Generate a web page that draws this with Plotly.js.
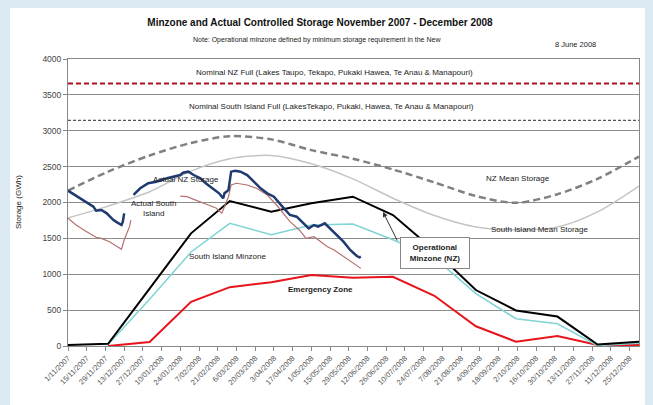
<!DOCTYPE html>
<html><head><meta charset="utf-8">
<script src="https://cdn.plot.ly/plotly-3.0.1.min.js"></script>
<style>
html,body{margin:0;padding:0;background:#dbe9f3;width:653px;height:405px;overflow:hidden;}
#panel{position:absolute;left:10px;top:8px;width:635px;height:397px;background:#fff;}
#chart{position:absolute;left:0;top:0;width:653px;height:405px;}
</style></head>
<body><div id="panel"></div><div id="chart"></div>
<script>
// ---- data ----
const monthDates = ['2007-11-01','2007-12-01','2008-01-01','2008-02-01','2008-03-01','2008-04-01','2008-05-01','2008-06-01','2008-07-01','2008-08-01','2008-09-01','2008-10-01','2008-11-01','2008-12-01','2009-01-01'];
const nzMean   = [2165,2430,2655,2830,2925,2880,2730,2610,2460,2280,2090,1995,2115,2330,2640];
const siMean   = [1785,1950,2150,2437,2610,2655,2540,2330,2060,1820,1660,1620,1660,1870,2230];
const opMinzone= [15,30,800,1570,2020,1872,1990,2081,1826,1330,780,495,410,20,60];
const siMinDates = monthDates.slice(1);
const siMinzone= [20,650,1310,1710,1550,1686,1700,1480,1230,730,380,310,5,40];
const emergDates = monthDates.slice(1);
const emergency= [0,55,615,820,890,990,950,965,700,275,60,140,15,15];
const fullDates = ['2007-11-01','2009-01-01'];
const nzFull = [3660,3660];
const siFull = [3145,3145];

const actNZDates = ['2007-11-01','2007-11-06','2007-11-12','2007-11-20','2007-11-22','2007-11-26','2007-11-30','2007-12-05','2007-12-08','2007-12-11','2007-12-12','2007-12-13','2007-12-16',
 '2007-12-20','2007-12-25','2007-12-31','2008-01-06','2008-01-14','2008-01-24','2008-01-26','2008-01-30','2008-02-03','2008-02-08','2008-02-12','2008-02-17','2008-02-22','2008-02-25','2008-02-26','2008-02-29','2008-03-01','2008-03-02','2008-03-05','2008-03-09','2008-03-14','2008-03-19','2008-03-24','2008-03-29','2008-04-03','2008-04-08','2008-04-15','2008-04-20','2008-04-25','2008-04-29','2008-05-03','2008-05-06','2008-05-11','2008-05-15','2008-05-20','2008-05-25','2008-05-30','2008-06-04','2008-06-06','2008-06-07'];
const actNZ = [2165,2105,2035,1942,1886,1895,1849,1756,1719,1686,1733,1849,null,
 2105,2198,2268,2290,2337,2383,2415,2430,2383,2337,2268,2198,2128,2058,2128,2174,2314,2430,2443,2430,2383,2290,2198,2128,2081,1970,1826,1802,1710,1640,1686,1663,1710,1640,1547,1454,1338,1254,1236,1245];

const actSIDates = ['2007-11-01','2007-11-07','2007-11-15','2007-11-22','2007-11-26','2007-12-02','2007-12-08','2007-12-11','2007-12-13','2007-12-17','2007-12-18','2008-01-01',
 '2008-01-24','2008-01-29','2008-02-03','2008-02-08','2008-02-14','2008-02-20','2008-02-24','2008-02-26','2008-02-29','2008-03-02','2008-03-06','2008-03-14','2008-03-21','2008-03-29','2008-04-05','2008-04-15','2008-04-22','2008-04-27','2008-05-03','2008-05-08','2008-05-13','2008-05-18','2008-05-25','2008-06-01','2008-06-07'];
const actSI = [1780,1686,1593,1515,1500,1454,1384,1347,1477,1663,1756,null,
 2090,2081,2044,2011,1965,1919,1849,1942,2081,2244,2268,2244,2198,2105,1965,1733,1617,1500,1523,1454,1384,1338,1245,1152,1082];

// ---- layout helpers (pixel -> paper) ----
const L=68, R=639, T=59, B=346;
const px = x => (x-L)/(R-L);
const py = y => (B-y)/(B-T);
const F = 'Arial, "Liberation Sans", sans-serif';

const traces = [
 {x:monthDates,y:siMean,mode:'lines',line:{color:'#c4c4c4',width:1.5,shape:'spline',smoothing:0.8}},
 {x:monthDates,y:nzMean,mode:'lines',line:{color:'#808080',width:2.5,dash:'7px,4px',shape:'spline',smoothing:0.8}},
 {x:fullDates,y:siFull,mode:'lines',line:{color:'#555555',width:1.3,dash:'3px,2px'}},
 {x:fullDates,y:nzFull,mode:'lines',line:{color:'#b0101c',width:2,dash:'5px,3px'}},
 {x:emergDates,y:emergency,mode:'lines',line:{color:'#e8141c',width:2}},
 {x:siMinDates,y:siMinzone,mode:'lines',line:{color:'#80d4d4',width:1.5}},
 {x:monthDates,y:opMinzone,mode:'lines',line:{color:'#000000',width:2}},
 {x:actSIDates,y:actSI,mode:'lines',connectgaps:false,line:{color:'#b5716f',width:1.2}},
 {x:actNZDates,y:actNZ,mode:'lines',connectgaps:false,line:{color:'#1f3a6e',width:2.5}}
];

const af = (s) => ({family:F,size:s,color:'#222'});
const ann = (x,y,text,size,extra) => Object.assign({xref:'paper',yref:'paper',x:px(x),y:py(y),text:text,showarrow:false,font:af(size||8),xanchor:'center',yanchor:'middle'},extra||{});

const layout = {
 width:653,height:405,
 margin:{l:L,r:653-R,t:T,b:405-B,pad:0},
 paper_bgcolor:'rgba(0,0,0,0)',plot_bgcolor:'#ffffff',
 showlegend:false,
 title:{text:'<b>Minzone and Actual Controlled Storage November 2007 - December 2008</b>',font:{family:F,size:10,color:'#111'},x:320/653,xref:'container',xanchor:'center',y:1-22/405,yref:'container',yanchor:'middle'},
 xaxis:{type:'date',range:['2007-11-01','2009-01-01'],tick0:'2007-11-01',dtick:14*86400000,tickformat:'%-d/%m/%Y',tickangle:-45,
   tickfont:{family:F,size:7.5,color:'#555'},ticks:'outside',ticklen:4,tickcolor:'#888',showgrid:false,showline:true,linecolor:'#888',linewidth:1,mirror:true,zeroline:false},
 yaxis:{range:[0,4000],dtick:500,tickfont:{family:F,size:8.5,color:'#444'},ticks:'outside',ticklen:4,tickcolor:'#888',showgrid:true,gridcolor:'#8c8c8c',gridwidth:1,
   showline:true,linecolor:'#888',linewidth:1,mirror:true,zeroline:false},
 annotations:[
  ann(18,202,'Storage (GWh)',8,{textangle:-90}),
  ann(317,40,'Note: Operational minzone defined by minimum storage requirement in the New',7),
  ann(575,45,'8 June 2008',7.5),
  ann(334,72.5,'Nominal NZ Full (Lakes Taupo, Tekapo, Pukaki Hawea, Te Anau &amp; Manapouri)',8),
  ann(331,107,'Nominal South Island Full (LakesTekapo, Pukaki, Hawea, Te Anau &amp; Manapouri)',8),
  ann(518,178,'NZ Mean Storage',8),
  ann(540,229,'South Island Mean Storage',8),
  ann(186,179,'Actual NZ Storage',8),
  ann(153,209,'Actual South<br>Island',8),
  ann(227,256,'South Island Minzone',8),
  ann(320,289,'<b>Emergency Zone</b>',8),
  ann(435,253,'<b>Operational<br>Minzone (NZ)</b>',8,{bgcolor:'#ffffff',bordercolor:'#888',borderwidth:1,borderpad:3,width:62,height:24}),
  {xref:'paper',yref:'paper',x:px(383),y:py(212),ax:15,ay:30,axref:'pixel',ayref:'pixel',text:'',showarrow:true,arrowhead:2,arrowsize:1,arrowwidth:1,arrowcolor:'#333'}
 ]
};
Plotly.newPlot('chart',traces,layout,{displayModeBar:false,staticPlot:true});
</script></body></html>
